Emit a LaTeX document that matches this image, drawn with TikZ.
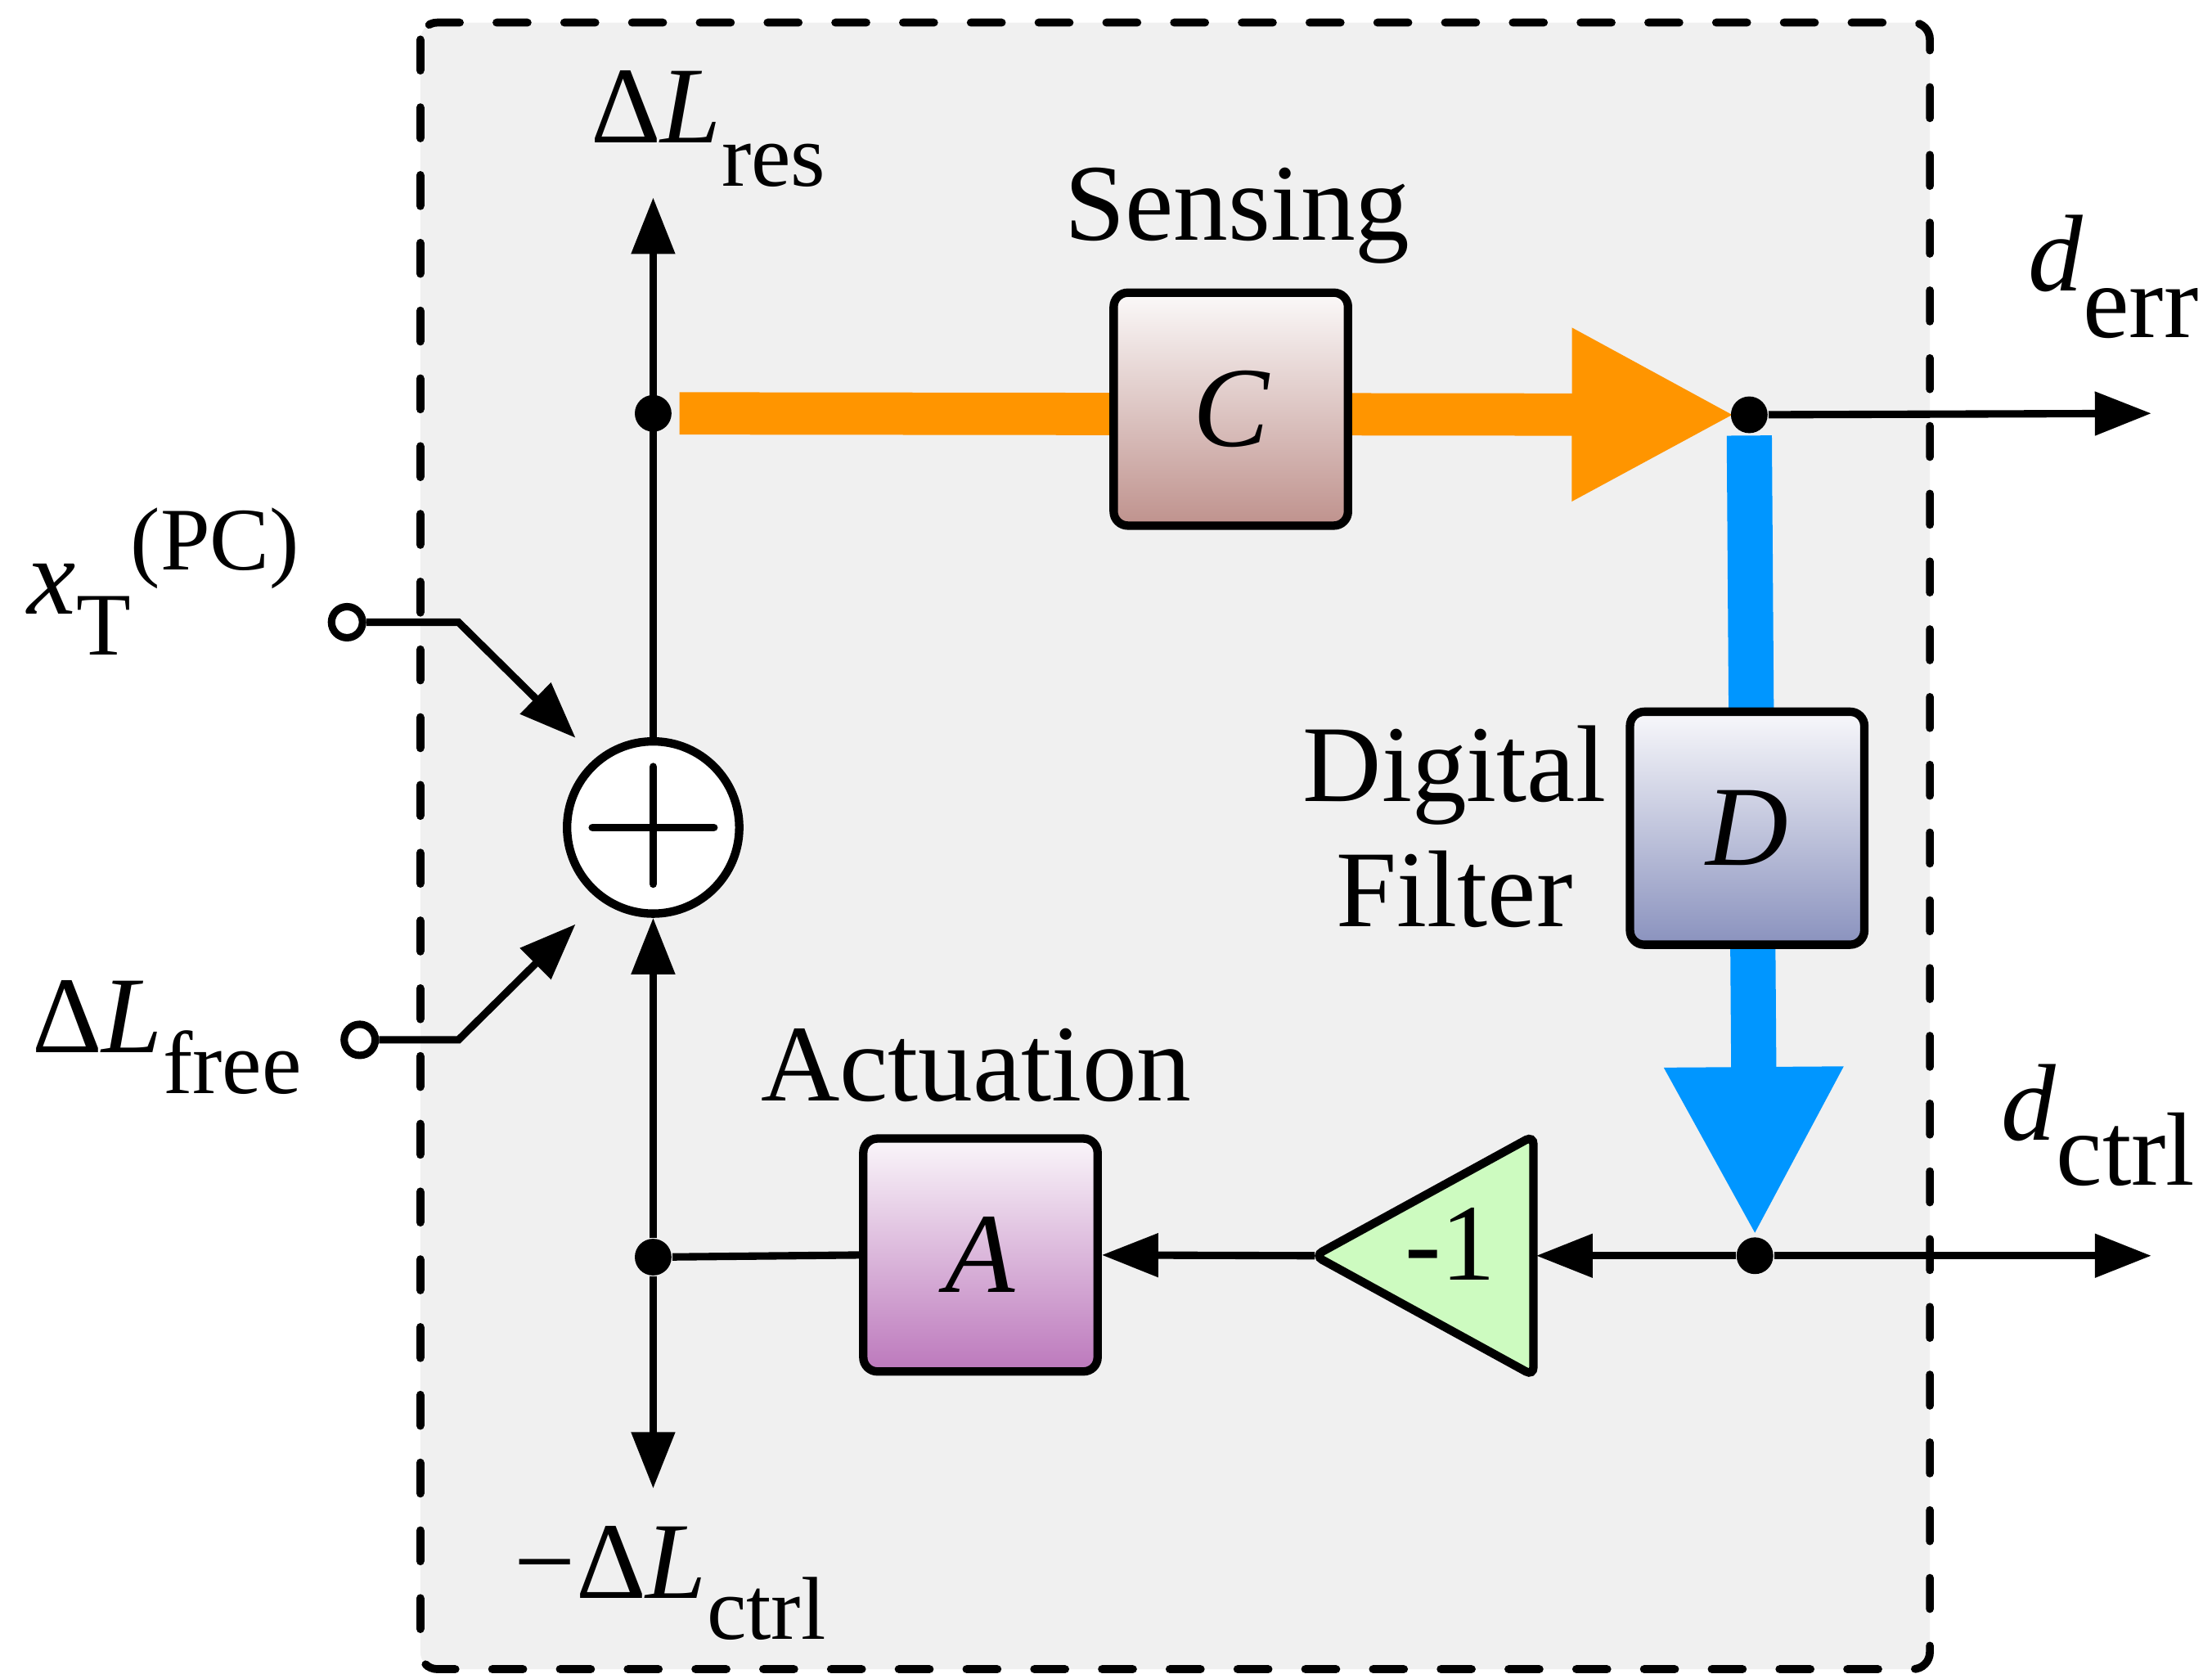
\documentclass[tikz,border=0pt]{standalone}
\usepackage{fontspec}
\setmainfont{Liberation Serif}
\usetikzlibrary{arrows.meta,calc}
\pgfdeclarelayer{back}
\pgfdeclarelayer{mid}
\pgfsetlayers{back,mid,main}
\definecolor{bgGray}{RGB}{240,240,240}
\definecolor{sensOrange}{RGB}{255,149,0}
\definecolor{filtBlue}{RGB}{0,150,255}
\definecolor{gainGreen}{RGB}{205,251,192}
\definecolor{cTop}{RGB}{251,249,249}
\definecolor{cBot}{RGB}{191,146,141}
\definecolor{dTop}{RGB}{248,248,251}
\definecolor{dBot}{RGB}{138,146,190}
\definecolor{aTop}{RGB}{250,246,250}
\definecolor{aBot}{RGB}{188,120,188}
\newcommand{\fsz}[1]{\fontsize{#1}{#1}\selectfont}
\newcommand{\lsub}[3]{\raisebox{-#1}{\fsz{#2}#3}}
\begin{document}
\begin{tikzpicture}[x=0.01cm,y=-0.01cm,
  lbl/.style={inner sep=0pt, font=\fsz{22}},
  blk/.style={draw, line width=1.7pt, rounded corners=0.1cm, minimum width=1.66cm, minimum height=1.65cm, inner sep=0pt, font=\fsz{23}\itshape},
  wire/.style={line width=1.5pt},
  arr/.style={wire, -{Triangle[length=0.4cm,width=0.3cm]}},
  junc/.style={circle, fill, inner sep=0pt, minimum size=0.26cm},
  port/.style={circle, draw, fill=white, line width=1.5pt, inner sep=0pt, minimum size=0.22cm},
  sumnode/.style={circle, draw, fill=white, line width=1.7pt, inner sep=0pt, minimum size=1.22cm},
]
\useasboundingbox (0,0) rectangle (1568,1186);

% junctions and blocks
\node[junc] (jTop) at (463,293) {};
\node[junc] (jErr) at (1240,294) {};
\node[junc] (jCtrl) at (1244,890) {};
\node[junc] (jBot) at (463,891) {};
\node[sumnode] (sum) at (463,586.5) {};
\draw[wire, line width=1.6pt, line cap=round] ($(sum.center)+(-43,0)$) -- ($(sum.center)+(43,0)$);
\draw[wire, line width=1.6pt, line cap=round] ($(sum.center)+(0,-43)$) -- ($(sum.center)+(0,40)$);
\node[blk, top color=cTop, bottom color=cBot] (C) at (872.5,290) {C};
\node[blk, top color=dTop, bottom color=dBot] (D) at (1238.5,587) {D};
\node[blk, top color=aTop, bottom color=aBot] (A) at (695,889.5) {A};

% gain
\coordinate (gTip) at (932,890);
\coordinate (gBack) at (1089,890);
\draw[line width=1.7pt, rounded corners=0.06cm, fill=gainGreen]
  (1087,890) -- (1087,975) -- (gTip) -- (1087,805) -- cycle;
\node[lbl, anchor=base] (gain) at (1028,907) {-1};

% ports
\node[port] (pX) at (246,441) {};
\node[port] (pF) at (255,737) {};
\coordinate (bX) at (325,441);
\coordinate (bF) at (325,737);
\coordinate (tX) at (408,523);
\coordinate (tF) at (408,655);

% free ends
\coordinate (resEnd) at (463,140);
\coordinate (errEnd) at (1525,293);
\coordinate (ctrlEnd) at (1525,890);
\coordinate (lctrlEnd) at (463,1055);

% connectors
\draw[arr] (sum.north) -- (resEnd);
\draw[arr] (jErr) -- (errEnd);
\draw[arr] (jCtrl) -- (ctrlEnd);
\draw[arr] (jCtrl) -- (gBack);
\draw[arr] (gTip) -- (A.east);
\draw[wire] (A.west) -- (jBot);
\draw[arr] (jBot) -- (sum.south);
\draw[arr] (jBot) -- (lctrlEnd);
\draw[arr] (pX.east) -- (bX) -- (tX);
\draw[arr] (pF.east) -- (bF) -- (tF);

% labels
\node[lbl, anchor=base] (sensing) at (877,170) {Sensing};
\node[lbl, anchor=base] (actuation) at (692,780) {Actuation};
\node[lbl, anchor=base] (dig) at (1031,568) {Digital};
\node[lbl, anchor=base] (filt) at (1031,657) {Filter};
\node[lbl, anchor=base west] (lres) at (418,101) {Δ\textit{L}\lsub{0.31cm}{18}{res}};
\node[lbl, anchor=base west] (lctrl) at (364,1133) {−Δ\textit{L}\lsub{0.29cm}{18}{ctrl}};
\node[lbl, anchor=base west] (lfree) at (22,746) {Δ\textit{L}\lsub{0.29cm}{18}{free}};
\node[lbl, anchor=base west] (xt) at (19,435) {\textit{x}\lsub{0.29cm}{18}{T}\raisebox{0.31cm}{\fsz{18}(PC)}};
\node[lbl, anchor=base west] (derr) at (1437,206) {\textit{d}\lsub{0.33cm}{21}{err}};
\node[lbl, anchor=base west] (dctrl) at (1418,808) {\textit{d}\lsub{0.32cm}{21}{ctrl}};

% background box
\begin{pgfonlayer}{back}
\draw[fill=bgGray, line width=1.6pt, dash pattern=on 0.22cm off 0.26cm, line cap=round, rounded corners=0.12cm]
  (298,16) rectangle (1368,1183);
\end{pgfonlayer}

% thick signal paths
\begin{pgfonlayer}{mid}
\draw[sensOrange, line width=0.3cm, -{Triangle[length=1.16cm,width=1.14cm]}]
  ($(jTop.east)+(5,0)$) -- ($(jErr.west)+(4,0)$);
\draw[filtBlue, line width=0.32cm, -{Triangle[length=1.2cm,width=1.18cm]}]
  ($(jErr.south)+(0,1)$) -- (jCtrl.north);
\end{pgfonlayer}
\end{tikzpicture}
\end{document}
